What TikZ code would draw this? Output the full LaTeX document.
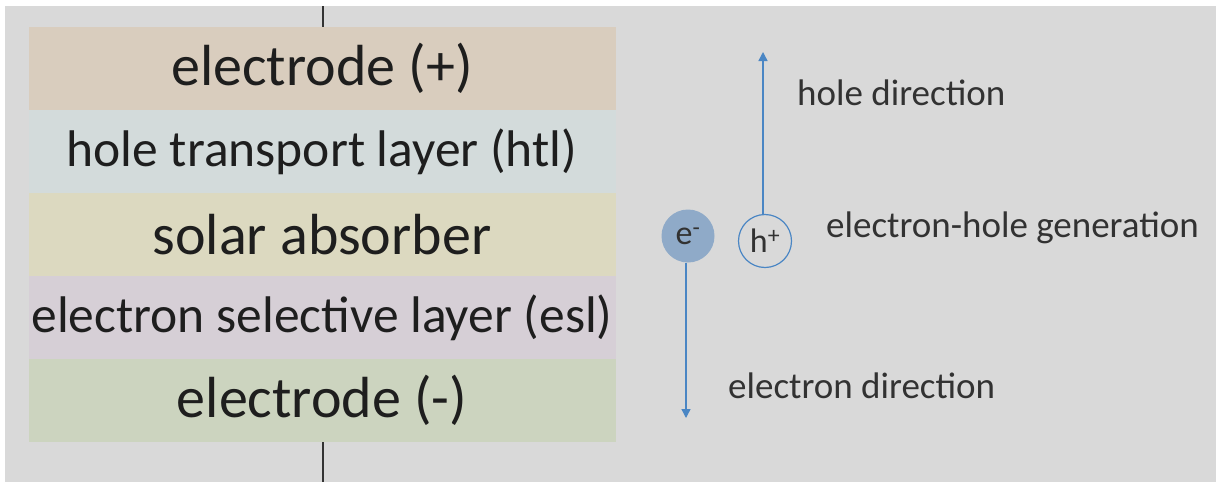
\documentclass[tikz,border=0pt]{standalone}
\usepackage{fontspec}
\setmainfont{Carlito}
\usetikzlibrary{arrows.meta}
\definecolor{bg}{RGB}{217,217,217}
\definecolor{cA}{RGB}{217,205,190}
\definecolor{cB}{RGB}{211,219,219}
\definecolor{cC}{RGB}{220,217,192}
\definecolor{cD}{RGB}{214,207,214}
\definecolor{cE}{RGB}{204,212,191}
\definecolor{arr}{RGB}{74,134,196}
\definecolor{efill}{RGB}{143,170,200}
\definecolor{txt}{RGB}{30,30,30}
\definecolor{txtb}{RGB}{50,50,50}
\tikzset{
  layer/.style={rectangle, inner sep=0pt, minimum width=587pt, minimum height=83pt, text=txt},
  big/.style={font=\fontsize{58}{64}\selectfont},
  small/.style={font=\fontsize{51.5}{58}\selectfont},
  lbl/.style={anchor=west, inner sep=0pt, text=txtb, font=\fontsize{37}{42}\selectfont},
  flow/.style={draw=arr, line width=1.4pt, -{Triangle[length=9pt,width=9pt]}},
  wire/.style={draw=black!80, line width=1.4pt},
  particle/.style={circle, minimum size=53pt, inner sep=0pt, text=txtb, font=\fontsize{34}{38}\selectfont}
}
\begin{document}
\begin{tikzpicture}[x=1pt,y=-1pt]
\useasboundingbox (0,0) rectangle (1216,482);
\fill[white] (0,0) rectangle (1216,482);
\fill[bg] (5,6) rectangle (1216,482);
\node[layer, big, fill=cA] (L1) at (322,68.5) {electrode (+)};
\node[layer, small, fill=cB] (L2) at (322,151.5) {hole transport layer (htl)};
\node[layer, big, fill=cC] (L3) at (322,234.5) {solar absorber};
\node[layer, small, fill=cD] (L4) at (322,317.5) {electron selective layer (esl)};
\node[layer, big, fill=cE] (L5) at (322,400.5) {electrode (-)};
\coordinate (top) at (323,6);
\coordinate (bot) at (323,482);
\draw[wire] (top) -- (top |- L1.north);
\draw[wire] (bot |- L5.south) -- (bot);
\node[particle, fill=efill] (e) at (688,236) {e\textsuperscript{-}};
\node[particle, draw=arr, line width=1.2pt] (h) at (765,241) {h\textsuperscript{+}};
\coordinate (htip) at (763,52);
\coordinate (etip) at (686,418);
\draw[flow] (h.north -| htip) -- (htip);
\draw[flow] (e.south -| etip) -- (etip);
\node[lbl] (hd) at (797,93) {hole direction};
\node[lbl] (gen) at (826,228) {electron-hole generation};
\node[lbl] (ed) at (728,386) {electron direction};
\end{tikzpicture}
\end{document}
